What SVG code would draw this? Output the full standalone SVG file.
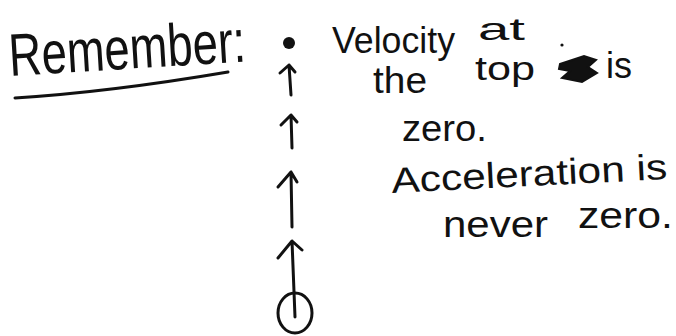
<svg xmlns="http://www.w3.org/2000/svg" width="676" height="336" viewBox="0 0 676 336">
<style>
.t{font-family:"Liberation Sans","DejaVu Sans",sans-serif;fill:#111}
.s{fill:none;stroke:#111;stroke-width:3;stroke-linecap:round;stroke-linejoin:round}
</style>
<rect width="676" height="336" fill="#fff"/>
<g id="title">
<text class="t" x="10" y="76" font-size="60" textLength="237" lengthAdjust="spacingAndGlyphs" transform="rotate(-3.5 10 76)">Remember:</text>
<path class="s" d="M15,98 Q110,92 228,72"/>
</g>
<g id="ball-path">
<circle id="top-dot" cx="289" cy="43" r="6" fill="#111"/>
<g id="connectors">
<path class="s" d="M291,95 L289,65 M280,73 L289,65 L295,72"/>
<path class="s" d="M292,148 L291,115 M281,125 L291,115 L297,122"/>
<path class="s" d="M292,227 L291,172 M278,187 L291,172 L297,182"/>
<path class="s" d="M295,317 L292,241 M278,258 L292,241 L302,250"/>
</g>
<ellipse id="ball" class="s" cx="295" cy="313" rx="17" ry="20"/>
</g>
<g id="notes">
<text class="t" x="332" y="53" font-size="36" textLength="123" lengthAdjust="spacingAndGlyphs">Velocity</text>
<text class="t" x="478" y="40" font-size="32" textLength="47" lengthAdjust="spacingAndGlyphs">at</text>
<text class="t" x="373" y="93" font-size="36" textLength="54" lengthAdjust="spacingAndGlyphs">the</text>
<text class="t" x="475" y="80" font-size="34" textLength="60" lengthAdjust="spacingAndGlyphs">top</text>
<path fill="#111" stroke="#111" stroke-width="2" d="M560,64 L584,56 L596,60 L588,67 L597,73 L582,82 L562,78 L570,71 L559,69 Z"/>
<circle cx="562" cy="45" r="1.6" fill="#111"/>
<text class="t" x="606" y="78" font-size="36" textLength="26" lengthAdjust="spacingAndGlyphs">is</text>
<text class="t" x="402" y="141" font-size="36" textLength="85" lengthAdjust="spacingAndGlyphs">zero.</text>
<text class="t" x="392" y="193" font-size="36" textLength="276" lengthAdjust="spacingAndGlyphs" transform="rotate(-2.9 392 193)">Acceleration is</text>
<text class="t" x="443" y="237" font-size="36" textLength="105" lengthAdjust="spacingAndGlyphs">never</text>
<text class="t" x="578" y="228" font-size="36" textLength="95" lengthAdjust="spacingAndGlyphs">zero.</text>
</g>
</svg>
